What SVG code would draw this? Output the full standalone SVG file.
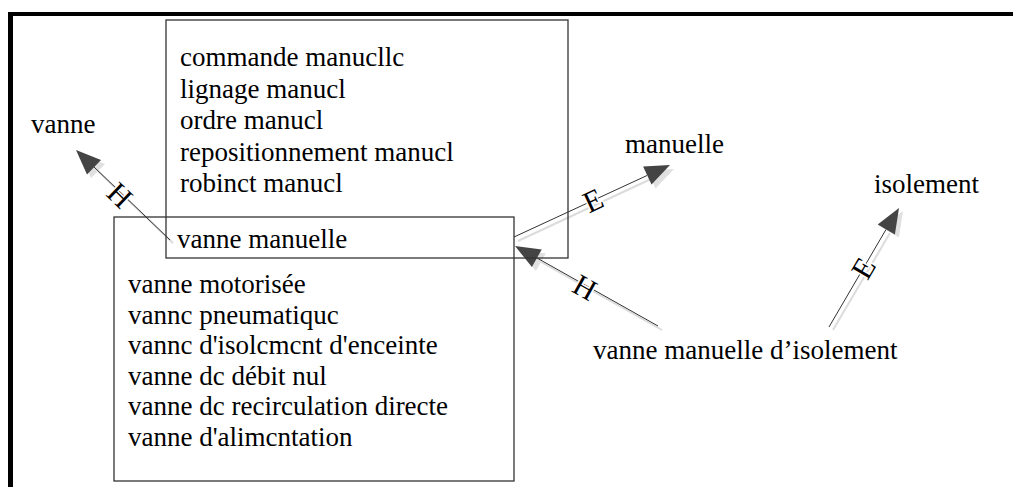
<svg xmlns="http://www.w3.org/2000/svg" width="1013" height="487" viewBox="0 0 1013 487">
  <style>
    text { font-family: "Liberation Serif", "Times New Roman", serif; fill: #000; }
    .t { font-size: 27px; }
    .lbl { font-size: 30px; text-anchor: middle; dominant-baseline: central; stroke: #fff; stroke-width: 3; paint-order: stroke; }
    .box { fill: none; stroke: #333; stroke-width: 1.3; }
    .shaft { stroke: #333; stroke-width: 1; fill: none; }
    .shadow { stroke: #dcdcdc; stroke-width: 2; fill: none; }
    .head { fill: #444; stroke: none; }
    .headshadow { fill: #e0e0e0; stroke: none; }
  </style>
  <rect x="0" y="0" width="1013" height="487" fill="#fff"/>
  <g id="frame" fill="#000">
    <rect x="8" y="12" width="1005" height="4"/>
    <rect x="8" y="12" width="5" height="475"/>
  </g>

  <g id="connectors">
    <!-- H to vanne -->
    <g id="c1">
      <line class="shadow" x1="173" y1="243" x2="98" y2="171"/>
      <polygon class="headshadow" points="80,154 105,164 91,178"/>
      <line class="shaft" x1="170" y1="240" x2="94" y2="167"/>
      <polygon class="head" points="76,150 101,160 87,174.5"/>
      <text class="lbl" x="120" y="195" transform="rotate(43.8 120 195)">H</text>
    </g>
    <!-- E to manuelle -->
    <g id="c2">
      <line class="shadow" x1="518" y1="241" x2="651" y2="179"/>
      <polygon class="headshadow" points="674,169 655.5,188.6 647.1,170.4"/>
      <line class="shaft" x1="514" y1="237" x2="647" y2="175.5"/>
      <polygon class="head" points="670,165 651.5,184.6 643.1,166.4"/>
      <text class="lbl" x="593" y="200" transform="rotate(-24.8 593 200)">E</text>
    </g>
    <!-- H from vanne manuelle d'isolement -->
    <g id="c3">
      <line class="shadow" x1="662" y1="330" x2="541" y2="262"/>
      <polygon class="headshadow" points="519,250 545.7,253.5 535.9,270.9"/>
      <line class="shaft" x1="658" y1="326" x2="537" y2="258"/>
      <polygon class="head" points="515,246 541.7,249.5 531.9,266.9"/>
      <text class="lbl" x="585" y="287" transform="rotate(29.2 585 287)">H</text>
    </g>
    <!-- E to isolement -->
    <g id="c4">
      <line class="shadow" x1="833" y1="330" x2="890" y2="233"/>
      <polygon class="headshadow" points="903,211 898.9,237.6 881.7,227.5"/>
      <line class="shaft" x1="829" y1="327" x2="886" y2="229.5"/>
      <polygon class="head" points="899,208 894.9,234.6 877.7,224.5"/>
      <text class="lbl" x="863" y="268" transform="rotate(-59.5 863 268)">E</text>
    </g>
  </g>

  <g id="node-upper">
    <rect class="box" x="166" y="20" width="402" height="238"/>
    <text class="t" x="180" y="66">commande manucllc</text>
    <text class="t" x="180" y="97.5">lignage manucl</text>
    <text class="t" x="180" y="129">ordre manucl</text>
    <text class="t" x="180" y="160.5">repositionnement manucl</text>
    <text class="t" x="180" y="192">robinct manucl</text>
  </g>

  <g id="node-lower">
    <rect class="box" x="114" y="217" width="400" height="264"/>
    <text class="t" x="177" y="248">vanne manuelle</text>
    <text class="t" x="128" y="293">vanne motorisée</text>
    <text class="t" x="128" y="323.5">vannc pneumatiquc</text>
    <text class="t" x="128" y="354">vannc d'isolcmcnt d'enceinte</text>
    <text class="t" x="128" y="384.5">vanne dc débit nul</text>
    <text class="t" x="128" y="415">vanne dc recirculation directe</text>
    <text class="t" x="128" y="445.5">vanne d'alimcntation</text>
  </g>

  <g id="node-vanne">
    <text class="t" x="31" y="133">vanne</text>
  </g>
  <g id="node-manuelle">
    <text class="t" x="625" y="153">manuelle</text>
  </g>
  <g id="node-isolement">
    <text class="t" x="874" y="193">isolement</text>
  </g>
  <g id="node-vmi">
    <text class="t" x="593" y="359">vanne manuelle d’isolement</text>
  </g>
</svg>
